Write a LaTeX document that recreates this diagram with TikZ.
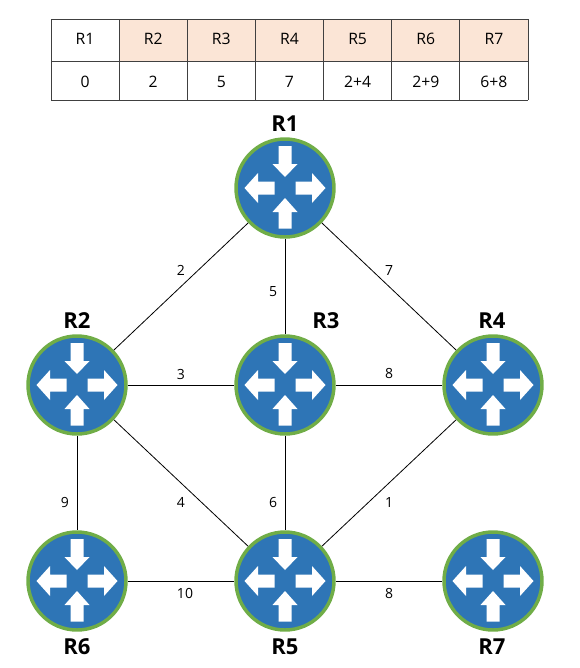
\documentclass[tikz,border=0pt]{standalone}
\usepackage{fontspec}
\setmainfont{Open Sans}
\definecolor{rblue}{HTML}{2E75B6}
\definecolor{rgreen}{HTML}{70AD47}
\definecolor{hdr}{HTML}{FBE5D6}
\definecolor{grid}{HTML}{404040}
\tikzset{
  router/.style={circle,draw=rgreen,line width=2.6pt,fill=rblue,minimum size=73.5pt,inner sep=0pt},
  routername/.style={font=\bfseries\fontsize{16.5}{20}\selectfont,inner sep=0pt},
  weight/.style={font=\fontsize{10.5}{12}\selectfont,inner sep=0pt},
  cell/.style={font=\fontsize{11.8}{14}\selectfont,inner sep=0pt},
  link/.style={draw=black,line width=0.6pt},
  tablerule/.style={draw=grid,line width=0.6pt},
  pics/routerarrows/.style={code={
    % right and left arrows point outward
    \foreach \s in {1,-1}{
      \fill[white,xscale=\s] (10.5,-6.5) -- (27,-6.5) -- (27,-15) -- (40.5,0) -- (27,15) -- (27,6.5) -- (10.5,6.5) -- cycle;
    }
    % upper and lower arrows point inward
    \fill[white] (-6.5,-42) -- (6.5,-42) -- (6.5,-24) -- (12.5,-24) -- (0,-11) -- (-12.5,-24) -- (-6.5,-24) -- cycle;
    \fill[white] (-6.5,40.5) -- (6.5,40.5) -- (6.5,24) -- (12.5,24) -- (0,10) -- (-12.5,24) -- (-6.5,24) -- cycle;
  }}
}
\begin{document}
\begin{tikzpicture}[x=0.75pt,y=-0.75pt]
\useasboundingbox (0,0) rectangle (580,668);
% table
\fill[hdr] (119,19) rectangle (528,61);
\foreach \i in {0,...,7}{
  \pgfmathsetmacro{\xx}{51+\i*68.14}
  \draw[tablerule] (\xx,19) -- (\xx,100);
}
\draw[tablerule] (51,19) -- (528,19);
\draw[tablerule] (51,61) -- (528,61);
\draw[tablerule] (51,100) -- (528,100);
\foreach \i/\t/\v in {0/R1/0,1/R2/2,2/R3/5,3/R4/7,4/R5/2+4,5/R6/2+9,6/R7/6+8}{
  \pgfmathsetmacro{\xx}{85.07+\i*68.14}
  \node[cell] (h\i) at (\xx,39) {\t};
  \node[cell] (v\i) at (\xx,81.5) {\v};
}
% routers
\node[router] (R1) at (285,188) {};
\node[router] (R2) at (77,385) {};
\node[router] (R3) at (285,385) {};
\node[router] (R4) at (493,385) {};
\node[router] (R5) at (285,581) {};
\node[router] (R6) at (77,581) {};
\node[router] (R7) at (493,581) {};
\foreach \n in {R1,R2,R3,R4,R5,R6,R7}{
  \pic at (\n) {routerarrows};
}
% links
\draw[link] (R1) -- (R2);
\draw[link] (R1) -- (R3);
\draw[link] (R1) -- (R4);
\draw[link] (R2) -- (R3);
\draw[link] (R3) -- (R4);
\draw[link] (R2) -- (R5);
\draw[link] (R3) -- (R5);
\draw[link] (R4) -- (R5);
\draw[link] (R2) -- (R6);
\draw[link] (R6) -- (R5);
\draw[link] (R5) -- (R7);
% weights
\node[weight] (w1) at (181,270) {2};
\node[weight] (w2) at (273,292) {5};
\node[weight] (w3) at (389,270) {7};
\node[weight] (w4) at (181,374) {3};
\node[weight] (w5) at (389,373) {8};
\node[weight] (w6) at (65,502) {9};
\node[weight] (w7) at (181,502) {4};
\node[weight] (w8) at (273,502) {6};
\node[weight] (w9) at (389,502) {1};
\node[weight] (w10) at (185,593) {10};
\node[weight] (w11) at (389,593) {8};
% names
\node[routername] (n1) at (285,123.5) {R1};
\node[routername] (n2) at (77,320.5) {R2};
\node[routername] (n3) at (326,320.5) {R3};
\node[routername] (n4) at (492,320.5) {R4};
\node[routername] (n5) at (285,646.5) {R5};
\node[routername] (n6) at (77,646.5) {R6};
\node[routername] (n7) at (492,646.5) {R7};
\end{tikzpicture}
\end{document}
